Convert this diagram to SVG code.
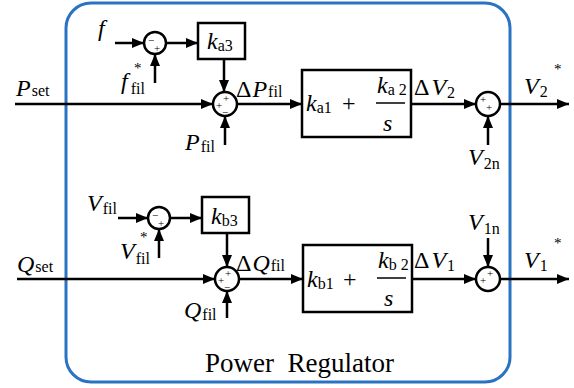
<svg xmlns="http://www.w3.org/2000/svg" width="574" height="388" viewBox="0 0 574 388">
<style>
.ln{stroke:#000;stroke-width:2.5;fill:none}
.ar{stroke:#000;stroke-width:2.5;fill:none;marker-end:url(#ah)}
.blk{stroke:#000;stroke-width:2.5;fill:#fff}
.t{fill:#000}
.v{font-size:24px;font-style:italic}
.s{font-size:16px;font-style:normal}
.u{font-size:24px}
.st{font-size:15px}
.sg{font-size:11px;fill:#000;text-anchor:middle}
</style>
<defs>
<marker id="ah" markerUnits="userSpaceOnUse" markerWidth="13" markerHeight="11" refX="12" refY="5" orient="auto">
<path d="M0,0 L12,5 L0,10 z" fill="#000"/>
</marker>
</defs>
<rect id="frame" x="66" y="3" width="444" height="379" rx="25" fill="none" stroke="#2a72c2" stroke-width="3"/>
<g id="connectors">
<line class="ar" x1="115" y1="43" x2="144" y2="43"/>
<line class="ar" x1="155" y1="83" x2="155" y2="54"/>
<line class="ar" x1="166" y1="43" x2="198" y2="43"/>
<line class="ar" x1="224" y1="59" x2="224" y2="92"/>
<line class="ar" x1="15" y1="104" x2="213" y2="104"/>
<line class="ar" x1="225" y1="145" x2="225" y2="116"/>
<line class="ar" x1="237" y1="104" x2="302" y2="104"/>
<line class="ar" x1="411" y1="104" x2="476" y2="104"/>
<line class="ar" x1="488" y1="145" x2="488" y2="116"/>
<line class="ar" x1="500" y1="104" x2="569" y2="104"/>
<line class="ar" x1="118" y1="218" x2="148" y2="218"/>
<line class="ar" x1="159" y1="258" x2="159" y2="229"/>
<line class="ar" x1="170" y1="218" x2="202" y2="218"/>
<line class="ar" x1="227" y1="233" x2="227" y2="267"/>
<line class="ar" x1="17" y1="279" x2="215" y2="279"/>
<line class="ar" x1="227" y1="318" x2="227" y2="291"/>
<line class="ar" x1="239" y1="279" x2="303" y2="279"/>
<line class="ar" x1="412" y1="279" x2="476" y2="279"/>
<line class="ar" x1="488" y1="238" x2="488" y2="267"/>
<line class="ar" x1="500" y1="279" x2="569" y2="279"/>
</g>
<g font-family="Liberation Serif, Times New Roman, DejaVu Serif, serif">
<g id="sum1"><circle class="blk" cx="155" cy="43" r="11"/><text class="sg" x="151" y="44">−</text><text class="sg" x="157" y="52">+</text></g>
<g id="ka3"><rect class="blk" x="198" y="23" width="47" height="36"/><text class="t" x="207" y="49"><tspan class="v">k</tspan><tspan class="s" dy="2">a3</tspan></text></g>
<g id="sum2"><circle class="blk" cx="225" cy="104" r="12"/><text class="sg" x="226" y="102">+</text><text class="sg" x="219" y="109">+</text><text class="sg" x="225" y="116">−</text></g>
<g id="pi1"><rect class="blk" x="302" y="70" width="109" height="67"/>
<text class="t" x="306" y="111"><tspan class="v">k</tspan><tspan class="s" dy="2">a1</tspan></text>
<text class="t u" x="342" y="111">+</text>
<text class="t" x="377" y="93"><tspan class="v">k</tspan><tspan class="s" dy="2">a 2</tspan></text>
<line class="ln" x1="376" y1="103" x2="405" y2="103" style="stroke-width:1.5"/>
<text class="t v" x="383" y="131">s</text></g>
<g id="sum3"><circle class="blk" cx="488" cy="104" r="12"/><text class="sg" x="483" y="103">+</text><text class="sg" x="489" y="111">+</text></g>
<g id="sum4"><circle class="blk" cx="159" cy="218" r="11"/><text class="sg" x="155" y="219">−</text><text class="sg" x="161" y="227">+</text></g>
<g id="kb3"><rect class="blk" x="202" y="197" width="47" height="36"/><text class="t" x="211" y="224"><tspan class="v">k</tspan><tspan class="s" dy="2">b3</tspan></text></g>
<g id="sum5"><circle class="blk" cx="227" cy="279" r="12"/><text class="sg" x="228" y="277">+</text><text class="sg" x="221" y="284">+</text><text class="sg" x="227" y="291">−</text></g>
<g id="pi2"><rect class="blk" x="303" y="245" width="109" height="67"/>
<text class="t" x="307" y="287"><tspan class="v">k</tspan><tspan class="s" dy="2">b1</tspan></text>
<text class="t u" x="343" y="287">+</text>
<text class="t" x="378" y="268"><tspan class="v">k</tspan><tspan class="s" dy="2">b 2</tspan></text>
<line class="ln" x1="377" y1="278" x2="406" y2="278" style="stroke-width:1.5"/>
<text class="t v" x="384" y="306">s</text></g>
<g id="sum6"><circle class="blk" cx="488" cy="279" r="12"/><text class="sg" x="483" y="284">+</text><text class="sg" x="490" y="277">+</text></g>
<g id="labels">
<text class="t v" x="98" y="36">f</text>
<text class="t" x="121" y="89"><tspan class="v">f</tspan><tspan class="s" dx="3" dy="5">fil</tspan></text>
<text class="t st" x="134" y="73">*</text>
<text class="t" x="16" y="96"><tspan class="v">P</tspan><tspan class="s" dx="1">set</tspan></text>
<text class="t" x="236" y="97"><tspan class="u">Δ</tspan><tspan class="v" dx="1">P</tspan><tspan class="s" dx="1">fil</tspan></text>
<text class="t" x="185" y="150"><tspan class="v">P</tspan><tspan class="s" dx="1" dy="2">fil</tspan></text>
<text class="t" x="414" y="95"><tspan class="u">Δ</tspan><tspan class="v" dx="2">V</tspan><tspan class="s" dx="1" dy="3">2</tspan></text>
<text class="t" x="524" y="94"><tspan class="v">V</tspan><tspan class="s" dx="1" dy="3">2</tspan></text>
<text class="t st" x="554" y="74">*</text>
<text class="t" x="468" y="165"><tspan class="v">V</tspan><tspan class="s" dx="1" dy="4">2n</tspan></text>
<text class="t" x="87" y="211"><tspan class="v">V</tspan><tspan class="s" dx="1" dy="3">fil</tspan></text>
<text class="t" x="120" y="259"><tspan class="v">V</tspan><tspan class="s" dx="1" dy="5">fil</tspan></text>
<text class="t st" x="140" y="242">*</text>
<text class="t" x="17" y="272"><tspan class="v">Q</tspan><tspan class="s" dx="1">set</tspan></text>
<text class="t" x="236" y="271"><tspan class="u">Δ</tspan><tspan class="v" dx="1">Q</tspan><tspan class="s" dx="1">fil</tspan></text>
<text class="t" x="184" y="318"><tspan class="v">Q</tspan><tspan class="s" dx="1" dy="2">fil</tspan></text>
<text class="t" x="414" y="268"><tspan class="u">Δ</tspan><tspan class="v" dx="2">V</tspan><tspan class="s" dx="1" dy="3">1</tspan></text>
<text class="t" x="524" y="268"><tspan class="v">V</tspan><tspan class="s" dx="1" dy="3">1</tspan></text>
<text class="t st" x="554" y="248">*</text>
<text class="t" x="468" y="230"><tspan class="v">V</tspan><tspan class="s" dx="1" dy="4">1n</tspan></text>
<text class="t" x="205" y="372" style="font-size:27px;white-space:pre">Power  Regulator</text>
</g>
</g>
</svg>
